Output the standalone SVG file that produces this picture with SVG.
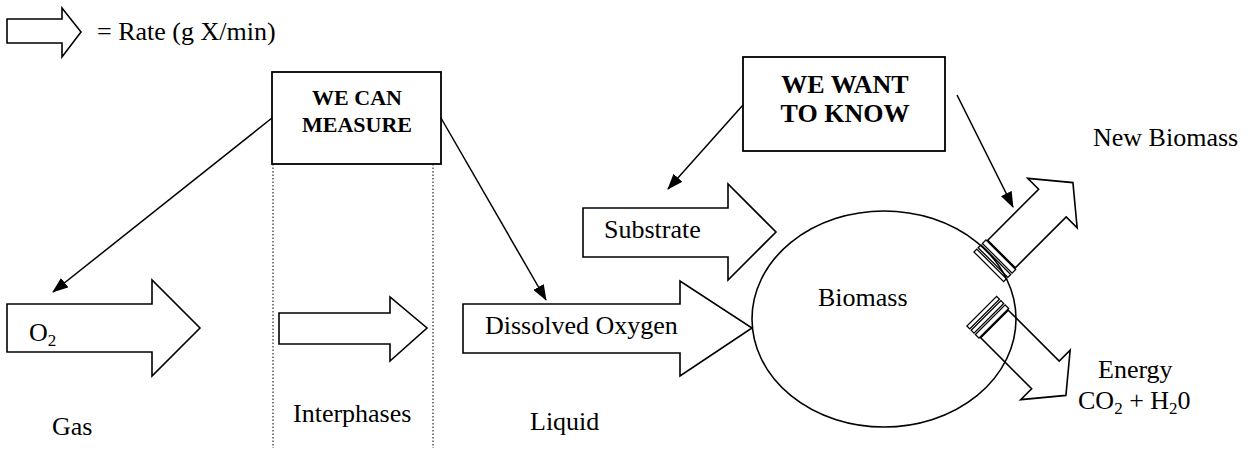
<svg xmlns="http://www.w3.org/2000/svg" width="1250" height="450" viewBox="0 0 1250 450">
<defs>
<style>
.t{font-family:"Liberation Serif","Times New Roman",serif;font-size:26px;fill:#000}
.b{font-family:"Liberation Serif","Times New Roman",serif;font-weight:bold;fill:#000;text-anchor:middle}
.ar{fill:#fff;stroke:#000;stroke-width:1.6;stroke-linejoin:miter}
.box{fill:#fff;stroke:#000;stroke-width:1.8}
.ln{stroke:#000;stroke-width:1.5;fill:none}
.dot{stroke:#000;stroke-width:1;stroke-dasharray:1.5,2;fill:none}
.st{fill:#fff;stroke:#000;stroke-width:1.3}
</style>
<marker id="ah" markerWidth="16" markerHeight="12" refX="15" refY="6" orient="auto" markerUnits="userSpaceOnUse">
<path d="M0,0 L16,6 L0,12 Z" fill="#000"/>
</marker>
<path id="fat" d="M0,-19.5 H72 V-35 L101,0 L72,35 V19.5 H0 Z"/>
</defs>
<rect width="1250" height="450" fill="#fff"/>

<g id="legend">
<path class="ar" d="M7,19 H62 V8 L81,32 L62,57 V43 H7 Z"/>
<text class="t" x="97" y="40">= Rate (g X/min)</text>
</g>

<g id="dividers">
<line class="dot" x1="273" y1="164" x2="273" y2="448"/>
<line class="dot" x1="433" y1="164" x2="433" y2="448"/>
</g>

<g id="we-can-measure">
<rect class="box" x="272" y="72" width="169" height="92"/>
<text class="b" font-size="22" x="357" y="105">WE CAN</text>
<text class="b" font-size="22" x="357" y="132">MEASURE</text>
</g>

<g id="we-want-to-know">
<rect class="box" x="743" y="57" width="202" height="94"/>
<text class="b" font-size="26" x="845" y="93">WE WANT</text>
<text class="b" font-size="26" x="845" y="122">TO KNOW</text>
</g>

<g id="gas-o2">
<path class="ar" d="M7,304 H152 V280 L200,328 L152,376 V352 H7 Z"/>
<text class="t" x="29" y="341">O<tspan font-size="17" dy="5">2</tspan></text>
<text class="t" x="52" y="435">Gas</text>
</g>

<g id="interphases">
<path class="ar" d="M279,313 H390 V297 L427,328 L390,361 V344 H279 Z"/>
<text class="t" x="293" y="422">Interphases</text>
</g>

<g id="dissolved-oxygen">
<path class="ar" d="M463,304 H680 V281 L752,328 L680,376 V353 H463 Z"/>
<text class="t" x="485" y="334">Dissolved Oxygen</text>
<text class="t" x="530" y="430">Liquid</text>
</g>

<g id="substrate">
<path class="ar" d="M583,208 H728 V184 L776,232 L728,280 V257 H583 Z"/>
<text class="t" x="604" y="238">Substrate</text>
</g>

<g id="new-biomass">
<g transform="translate(1001.5,254) rotate(-45)">
<use href="#fat" class="ar"/>
<rect class="st" x="-18" y="-21" width="4" height="42"/>
<rect class="st" x="-12" y="-21" width="4" height="42"/>
<rect class="st" x="-6" y="-21" width="5" height="42"/>
</g>
<text class="t" x="1093" y="146">New Biomass</text>
</g>

<g id="energy">
<g transform="translate(994.5,324) rotate(45)">
<use href="#fat" class="ar"/>
<rect class="st" x="-18" y="-21" width="4" height="42"/>
<rect class="st" x="-12" y="-21" width="4" height="42"/>
<rect class="st" x="-6" y="-21" width="5" height="42"/>
</g>
<text class="t" x="1098" y="378">Energy</text>
<text class="t" x="1078" y="409">CO<tspan font-size="17" dy="5">2</tspan><tspan dy="-5"> + H</tspan><tspan font-size="17" dy="5">2</tspan><tspan dy="-5">0</tspan></text>
</g>

<g id="biomass">
<ellipse cx="884" cy="319" rx="132" ry="108" fill="none" stroke="#000" stroke-width="1.6"/>
<text class="t" x="818" y="306">Biomass</text>
</g>

<g id="connectors">
<line class="ln" x1="272" y1="118" x2="53" y2="292" marker-end="url(#ah)"/>
<line class="ln" x1="441" y1="118" x2="546" y2="300" marker-end="url(#ah)"/>
<line class="ln" x1="743" y1="105" x2="668" y2="189" marker-end="url(#ah)"/>
<line class="ln" x1="957" y1="95" x2="1013" y2="207" marker-end="url(#ah)"/>
</g>
</svg>
